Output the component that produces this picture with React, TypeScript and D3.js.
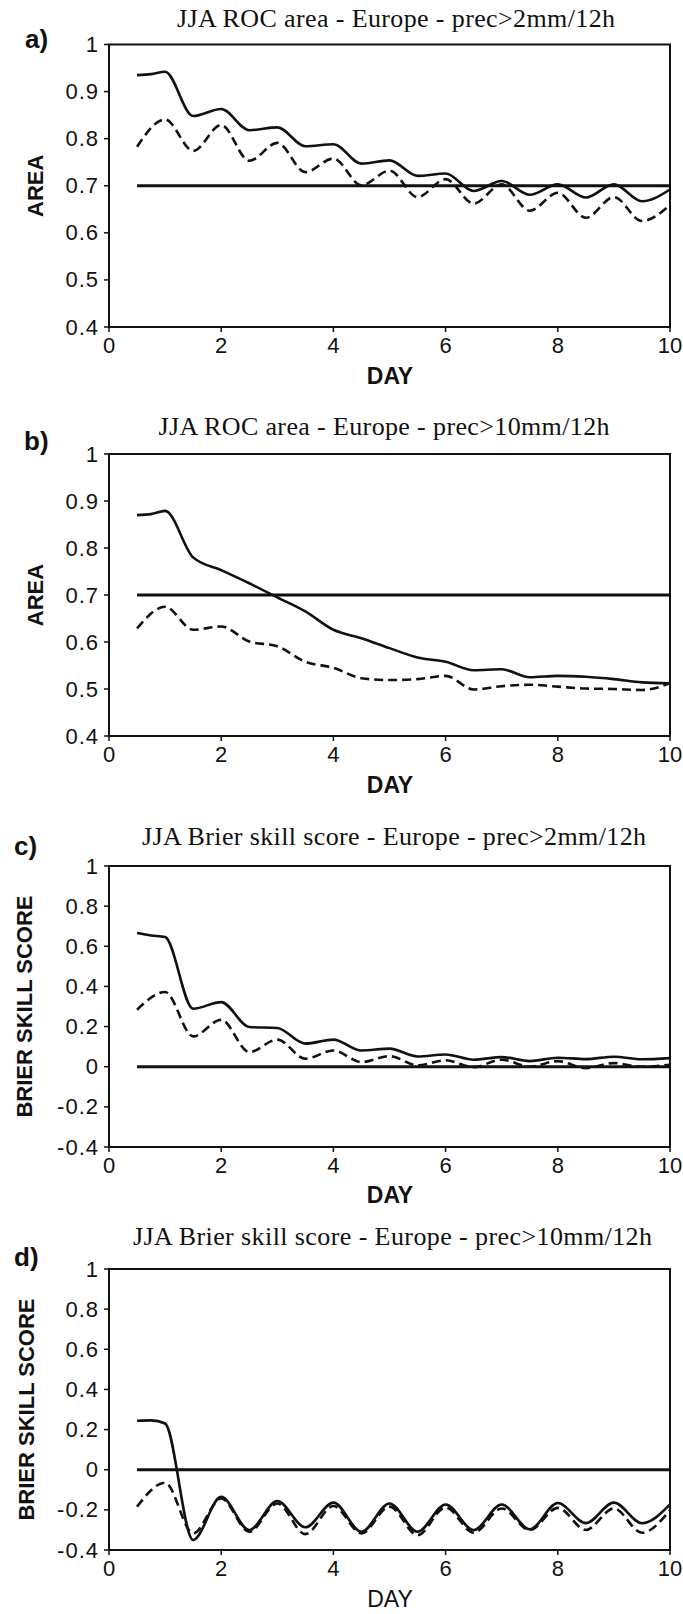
import React from 'react';
import * as d3 from 'd3';

// ---------- data ----------
const DAYS_SOLID = [0.5, 0.75, 1, 1.5, 2, 2.5, 3, 3.5, 4, 4.5, 5, 5.5, 6, 6.5, 7, 7.5, 8, 8.5, 9, 9.5, 10];
const DAYS_DASHED = [0.5, 1, 1.5, 2, 2.5, 3, 3.5, 4, 4.5, 5, 5.5, 6, 6.5, 7, 7.5, 8, 8.5, 9, 9.5, 10];

const A_SOLID = [0.935, 0.937, 0.942, 0.848, 0.863, 0.818, 0.824, 0.784, 0.788, 0.747, 0.754, 0.721, 0.726, 0.689, 0.710, 0.681, 0.703, 0.675, 0.703, 0.667, 0.692];
const A_DASHED = [0.783, 0.841, 0.774, 0.829, 0.753, 0.791, 0.729, 0.758, 0.701, 0.732, 0.676, 0.714, 0.662, 0.703, 0.647, 0.685, 0.632, 0.676, 0.625, 0.659];

const B_SOLID = [0.870, 0.872, 0.879, 0.780, 0.753, 0.725, 0.695, 0.665, 0.626, 0.608, 0.587, 0.567, 0.558, 0.540, 0.542, 0.525, 0.528, 0.526, 0.521, 0.514, 0.512];
const B_DASHED = [0.629, 0.675, 0.626, 0.633, 0.601, 0.591, 0.558, 0.545, 0.523, 0.519, 0.521, 0.528, 0.499, 0.506, 0.509, 0.505, 0.501, 0.500, 0.498, 0.512];

const C_SOLID = [0.666, 0.654, 0.646, 0.289, 0.322, 0.198, 0.193, 0.115, 0.135, 0.081, 0.090, 0.051, 0.061, 0.035, 0.048, 0.028, 0.045, 0.038, 0.050, 0.037, 0.043];
const C_DASHED = [0.284, 0.372, 0.151, 0.234, 0.073, 0.135, 0.040, 0.081, 0.023, 0.053, 0.007, 0.032, -0.002, 0.035, 0.000, 0.028, -0.007, 0.018, 0.000, 0.010];

const D_SOLID = [0.244, 0.246, 0.230, -0.350, -0.135, -0.301, -0.156, -0.287, -0.164, -0.309, -0.168, -0.309, -0.173, -0.301, -0.173, -0.297, -0.166, -0.266, -0.164, -0.267, -0.173];
const D_DASHED = [-0.184, -0.065, -0.317, -0.143, -0.309, -0.168, -0.321, -0.181, -0.317, -0.184, -0.326, -0.188, -0.314, -0.193, -0.301, -0.190, -0.300, -0.193, -0.314, -0.201];

const X_TICKS = [0, 2, 4, 6, 8, 10];
const X_TICK_LABELS = ['0', '2', '4', '6', '8', '10'];
const ROC_Y_TICKS = [0.4, 0.5, 0.6, 0.7, 0.8, 0.9, 1];
const ROC_Y_TICK_LABELS = ['0.4', '0.5', '0.6', '0.7', '0.8', '0.9', '1'];
const BSS_Y_TICKS = [-0.4, -0.2, 0, 0.2, 0.4, 0.6, 0.8, 1];
const BSS_Y_TICK_LABELS = ['-0.4', '-0.2', '0', '0.2', '0.4', '0.6', '0.8', '1'];

const PANEL_LETTERS = ['a)', 'b)', 'c)', 'd)'];
const TITLES = [
  'JJA ROC area - Europe - prec>2mm/12h',
  'JJA ROC area - Europe - prec>10mm/12h',
  'JJA Brier skill score - Europe - prec>2mm/12h',
  'JJA Brier skill score - Europe - prec>10mm/12h',
];
const Y_LABELS = ['AREA', 'AREA', 'BRIER SKILL SCORE', 'BRIER SKILL SCORE'];
const X_LABEL = 'DAY';
const REFERENCE_LEVELS = [0.7, 0.7, 0, 0];
const SOLID_SERIES = [A_SOLID, B_SOLID, C_SOLID, D_SOLID];
const DASHED_SERIES = [A_DASHED, B_DASHED, C_DASHED, D_DASHED];

// ---------- layout ----------
const LEFT = 109;
const RIGHT = 670;
const LAYOUT = [
  { top: 44.5, bottom: 327, titleY: 27, titleX: 396, titleLen: 438, letterX: 25, letterY: 48, ylabX: 35, dayY: 384, dayBold: true, domain: [0.4, 1], ticks: 'roc' },
  { top: 454, bottom: 736, titleY: 435, titleX: 384, titleLen: 451, letterX: 24, letterY: 450, ylabX: 35, dayY: 793, dayBold: true, domain: [0.4, 1], ticks: 'roc' },
  { top: 866, bottom: 1147, titleY: 845, titleX: 394, titleLen: 504, letterX: 14, letterY: 855, ylabX: 24, dayY: 1203, dayBold: true, domain: [-0.4, 1], ticks: 'bss' },
  { top: 1269, bottom: 1550, titleY: 1245, titleX: 392.5, titleLen: 519, letterX: 14, letterY: 1266, ylabX: 26, dayY: 1607, dayBold: false, domain: [-0.4, 1], ticks: 'bss' },
];

const SANS = 'Liberation Sans, Arial, Helvetica, sans-serif';
const SERIF = 'Liberation Serif, Times New Roman, serif';

function Panel({ i }: { i: number }) {
  const L = LAYOUT[i];
  const x = d3.scaleLinear().domain([0, 10]).range([LEFT, RIGHT]);
  const y = d3.scaleLinear().domain(L.domain).range([L.bottom, L.top]);
  const yTicks = L.ticks === 'roc' ? ROC_Y_TICKS : BSS_Y_TICKS;
  const yTickLabels = L.ticks === 'roc' ? ROC_Y_TICK_LABELS : BSS_Y_TICK_LABELS;

  const solid = d3
    .line<number>()
    .x((_, k) => x(DAYS_SOLID[k]))
    .y((v) => y(v))
    .curve(d3.curveMonotoneX)(SOLID_SERIES[i]);
  const dashed = d3
    .line<number>()
    .x((_, k) => x(DAYS_DASHED[k]))
    .y((v) => y(v))
    .curve(d3.curveMonotoneX)(DASHED_SERIES[i]);

  const ref = REFERENCE_LEVELS[i];
  const midY = (L.top + L.bottom) / 2;

  return (
    <g>
      <text
        x={L.titleX}
        y={L.titleY}
        textAnchor="middle"
        fontFamily={SERIF}
        fontSize={26}
        textLength={L.titleLen}
        lengthAdjust="spacing"
        fill="#111"
      >
        {TITLES[i]}
      </text>
      <text x={L.letterX} y={L.letterY} fontFamily={SANS} fontWeight="bold" fontSize={26} fill="#111">
        {PANEL_LETTERS[i]}
      </text>
      <text
        transform={`translate(${L.ylabX},${midY}) rotate(-90)`}
        textAnchor="middle"
        dominantBaseline="central"
        fontFamily={SANS}
        fontWeight="bold"
        fontSize={22}
        fill="#111"
      >
        {Y_LABELS[i]}
      </text>

      {yTicks.map((t, k) => (
        <g key={'y' + k}>
          <line x1={LEFT - 5} x2={LEFT} y1={y(t)} y2={y(t)} stroke="#111" strokeWidth={1.5} />
          <text
            x={LEFT - 10}
            y={y(t)}
            textAnchor="end"
            dominantBaseline="central"
            fontFamily={SANS}
            fontSize={22}
            letterSpacing={1}
            fill="#111"
          >
            {yTickLabels[k]}
          </text>
        </g>
      ))}
      {X_TICKS.map((t, k) => (
        <g key={'x' + k}>
          <line x1={x(t)} x2={x(t)} y1={L.bottom} y2={L.bottom + 5} stroke="#111" strokeWidth={1.5} />
          <text x={x(t)} y={L.bottom + 26} textAnchor="middle" fontFamily={SANS} fontSize={22} fill="#111">
            {X_TICK_LABELS[k]}
          </text>
        </g>
      ))}
      <text
        x={390}
        y={L.dayY}
        textAnchor="middle"
        fontFamily={SANS}
        fontWeight={L.dayBold ? 'bold' : 'normal'}
        fontSize={23}
        fill="#111"
      >
        {X_LABEL}
      </text>

      <rect x={LEFT} y={L.top} width={RIGHT - LEFT} height={L.bottom - L.top} fill="none" stroke="#111" strokeWidth={2} />
      <line x1={x(0.5)} x2={x(10)} y1={y(ref)} y2={y(ref)} stroke="#111" strokeWidth={3} />
      <path d={solid || ''} fill="none" stroke="#111" strokeWidth={2.6} strokeLinejoin="round" />
      <path d={dashed || ''} fill="none" stroke="#111" strokeWidth={2.6} strokeDasharray="9,5" />
    </g>
  );
}

export default function App() {
  return (
    <svg
      width={683}
      height={1614}
      viewBox="0 0 683 1614"
      style={{ position: 'absolute', left: 0, top: 0, background: '#fff' }}
    >
      <rect x={0} y={0} width={683} height={1614} fill="#fff" />
      {[0, 1, 2, 3].map((i) => (
        <Panel key={i} i={i} />
      ))}
    </svg>
  );
}
